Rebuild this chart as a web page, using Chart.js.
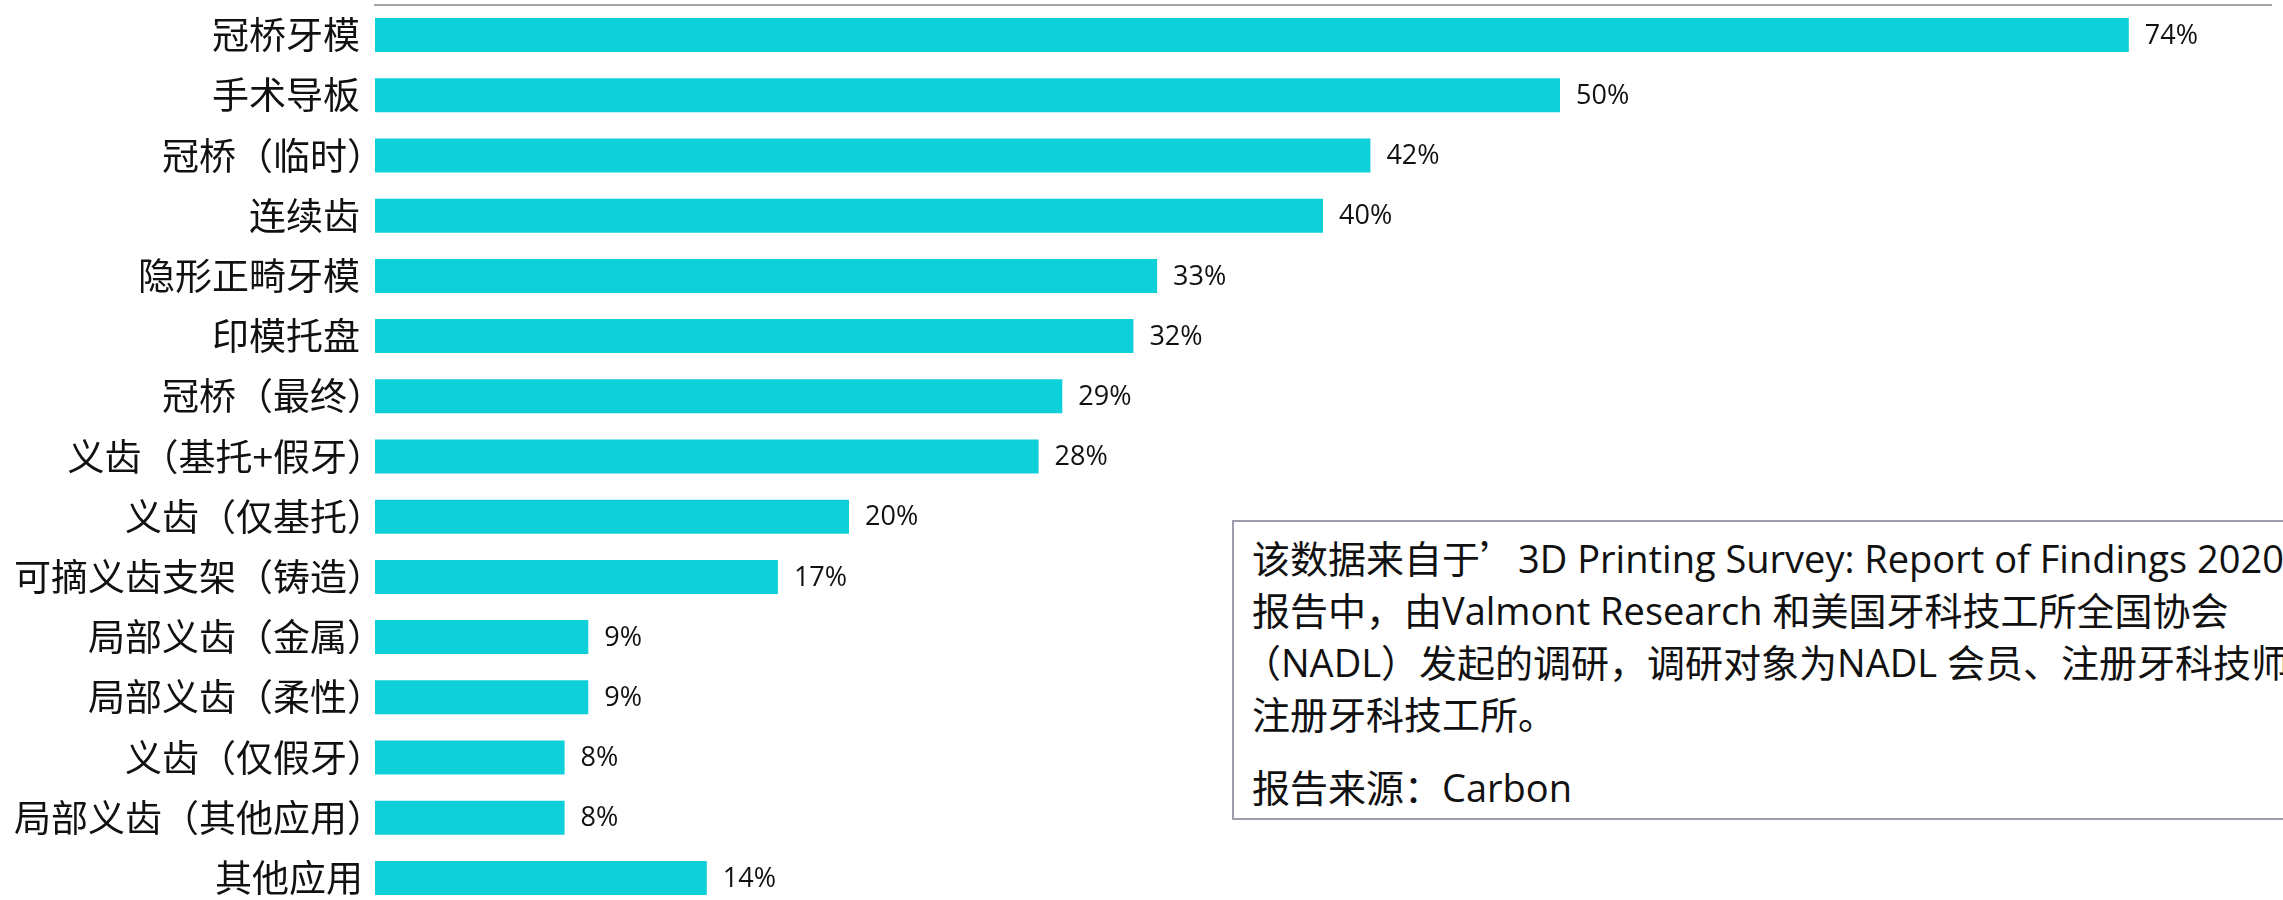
<!DOCTYPE html>
<html lang="zh-CN">
<head>
<meta charset="utf-8">
<title>3D打印牙科应用</title>
<script src="https://cdn.jsdelivr.net/npm/chart.js@4.4.1/dist/chart.umd.min.js"></script>
<style>
  html, body { margin: 0; padding: 0; background: #fff; overflow: hidden; }
  #wrap { position: relative; width: 2283px; height: 900px; overflow: hidden; }
  #chart { position: absolute; left: 0; top: 0; }
  #note {
    position: absolute; left: 1232px; top: 520px; width: 1100px; height: 300px;
    border: 2px solid #9d9dab; background: #fff;
    font-family: "Open Sans", "Noto Sans CJK SC", sans-serif; font-size: 38px; color: #111;
    line-height: 52px; padding: 9px 0 0 18px; box-sizing: border-box; white-space: nowrap;
  }
  #note .q { font-family: "Noto Sans CJK SC", sans-serif; }
  #note .src { margin-top: 21px; }
</style>
</head>
<body>
<div id="wrap">
  <canvas id="chart" width="2283" height="908"></canvas>
  <div id="note">
    <div>该数据来自于<span class="q">’</span>3D Printing Survey: Report of Findings 2020<span class="q">’</span></div>
    <div>报告中，由Valmont Research 和美国牙科技工所全国协会</div>
    <div style="margin-left:-9px">（NADL）发起的调研，调研对象为NADL 会员、注册牙科技师和</div>
    <div>注册牙科技工所。</div>
    <div class="src">报告来源：Carbon</div>
  </div>
</div>
<script>
// categories top to bottom
const categories = [
  "冠桥牙模", "手术导板", "冠桥（临时）", "连续齿", "隐形正畸牙模", "印模托盘",
  "冠桥（最终）", "义齿（基托+假牙）", "义齿（仅基托）", "可摘义齿支架（铸造）",
  "局部义齿（金属）", "局部义齿（柔性）", "义齿（仅假牙）", "局部义齿（其他应用）", "其他应用"
];
const shares = [74, 50, 42, 40, 33, 32, 29, 28, 20, 17, 9, 9, 8, 8, 14];
const axisMax = 80;

const barColor = "#0ed0d9";
const labelFont = '37px "Noto Sans CJK SC", sans-serif';

// category names, right-aligned on the glyph ink so the full-width ）doesn't leave a gap
const categoryLabels = {
  id: "categoryLabels",
  afterDraw(chart) {
    const ctx = chart.ctx;
    const y = chart.scales.y;
    ctx.save();
    ctx.font = labelFont;
    ctx.fillStyle = "#111";
    ctx.textAlign = "left";
    ctx.textBaseline = "middle";
    y.ticks.forEach((t, i) => {
      const txt = y.getLabelForValue(t.value);
      const m = ctx.measureText(txt);
      ctx.fillText(txt, y.right - 16 - m.actualBoundingBoxRight, y.getPixelForTick(i));
    });
    ctx.restore();
  }
};

// draws "74%" etc. right of each bar
const valueLabels = {
  id: "valueLabels",
  afterDatasetsDraw(chart) {
    const ctx = chart.ctx;
    const meta = chart.getDatasetMeta(0);
    ctx.save();
    ctx.font = '27px "Open Sans", "Noto Sans", sans-serif';
    ctx.fillStyle = "#111";
    ctx.textAlign = "left";
    ctx.textBaseline = "middle";
    meta.data.forEach((bar, i) => {
      ctx.fillText(shares[i] + "%", bar.x + 16, bar.y + 1);
    });
    ctx.restore();
  }
};

const ctx = document.getElementById("chart").getContext("2d");
new Chart(ctx, {
  type: "bar",
  data: {
    labels: categories,
    datasets: [{
      data: shares,
      backgroundColor: barColor,
      borderWidth: 0,
      barPercentage: 0.95,
      categoryPercentage: 0.595
    }]
  },
  options: {
    indexAxis: "y",
    responsive: false,
    animation: false,
    layout: { padding: { left: 0, right: 12, top: 0, bottom: 0 } },
    plugins: { legend: { display: false }, tooltip: { enabled: false } },
    scales: {
      x: {
        position: "top",
        min: 0,
        max: axisMax,
        grid: { display: false, drawTicks: false },
        border: { display: true, color: "#a6a6a6", width: 2 },
        ticks: { display: false },
        afterFit: (s) => { s.height = 5; s.paddingLeft = 0; s.paddingRight = 0; }
      },
      y: {
        grid: { display: false, drawTicks: false },
        border: { display: false },
        ticks: { display: false },
        afterFit: (s) => { s.width = 375; s.paddingTop = 0; s.paddingBottom = 0; }
      }
    }
  },
  plugins: [valueLabels, categoryLabels]
});
</script>
</body>
</html>
